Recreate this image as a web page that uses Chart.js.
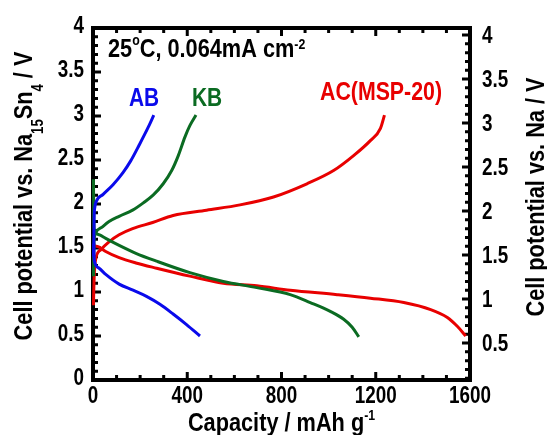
<!DOCTYPE html>
<html>
<head>
<meta charset="utf-8">
<script src="https://cdn.jsdelivr.net/npm/chart.js@4.4.1/dist/chart.umd.min.js"></script>
<style>
  html, body { margin: 0; padding: 0; background: #fff; }
  #wrap { width: 547px; height: 435px; position: relative; }
</style>
</head>
<body>
<div id="wrap"><canvas id="c" width="547" height="435"></canvas></div>
<script>
// ---- data ----
const abDischargeCap = [3, 4, 6, 26, 54, 111, 170, 227, 284, 340, 397, 454];
const abDischargeV   = [1.55, 1.42, 1.35, 1.27, 1.20, 1.09, 1.02, 0.95, 0.86, 0.75, 0.63, 0.50];
const abChargeCap = [3, 4, 5, 7, 14, 43, 85, 128, 160, 196, 234, 258];
const abChargeV   = [1.40, 1.70, 1.87, 1.95, 2.03, 2.11, 2.22, 2.36, 2.49, 2.67, 2.87, 3.01];

const kbDischargeCap = [2, 3, 5, 8, 28, 54, 111, 182, 270, 411, 553, 695, 837, 922, 1007, 1064, 1100, 1128];
const kbDischargeV   = [2.28, 1.90, 1.72, 1.68, 1.65, 1.61, 1.53, 1.44, 1.35, 1.22, 1.12, 1.05, 0.97, 0.88, 0.78, 0.69, 0.60, 0.49];
const kbChargeCap = [2, 3, 4, 6, 11, 40, 68, 111, 168, 217, 255, 298, 334, 362, 390, 411, 437];
const kbChargeV   = [1.18, 1.40, 1.55, 1.62, 1.67, 1.74, 1.80, 1.86, 1.93, 2.02, 2.10, 2.23, 2.38, 2.55, 2.76, 2.89, 3.01];

const acDischargeCap = [3, 5, 14, 26, 54, 111, 182, 270, 411, 553, 695, 837, 1036, 1177, 1319, 1433, 1504, 1546, 1582];
const acDischargeV   = [1.55, 1.53, 1.52, 1.51, 1.46, 1.39, 1.33, 1.27, 1.18, 1.10, 1.07, 1.02, 0.97, 0.93, 0.88, 0.80, 0.71, 0.61, 0.50];
const acChargeCap = [2, 3, 5, 11, 33, 68, 111, 168, 253, 340, 482, 624, 766, 908, 1021, 1106, 1177, 1220, 1237];
const acChargeV   = [0.85, 0.99, 1.18, 1.37, 1.48, 1.57, 1.65, 1.72, 1.79, 1.87, 1.93, 1.99, 2.08, 2.23, 2.38, 2.55, 2.72, 2.86, 3.01];

const xTickLabels = [0, 400, 800, 1200, 1600];
const yLeftTicks  = [0, 0.5, 1, 1.5, 2, 2.5, 3, 3.5, 4];
const yRightTicks = [0.5, 1, 1.5, 2, 2.5, 3, 3.5, 4];

const seriesNames = ['AB', 'KB', 'AC(MSP-20)'];
const seriesColors = ['#0a0aeb', '#0b6b22', '#e80000'];

// ---- helpers ----
const FAM = "'Liberation Sans', Arial, sans-serif";
const SQUEEZE = 0.82; // narrow (condensed) look of the original lettering
const pts = (xs, ys) => xs.map((v, i) => ({ x: v, y: ys[i] }));
const fmt = v => String(Number(v.toFixed(2)));

function mkSet(label, xs, ys, color) {
  return {
    label, data: pts(xs, ys), showLine: true, borderColor: color, backgroundColor: color,
    borderWidth: 3, pointRadius: 0, cubicInterpolationMode: 'monotone',
    yAxisID: 'y', parsing: false, clip: 6
  };
}

// rich text drawing: segments [text, sizePx, baselineOffsetPx]
function drawRich(ctx, segs, x, y, align, rot, color) {
  ctx.save();
  ctx.translate(x, y);
  if (rot) ctx.rotate(rot);
  ctx.scale(SQUEEZE, 1);
  ctx.fillStyle = color;
  ctx.textBaseline = 'alphabetic';
  ctx.textAlign = 'left';
  let total = 0;
  const widths = segs.map(s => { ctx.font = `bold ${s[1]}px ${FAM}`; const w = ctx.measureText(s[0]).width; total += w; return w; });
  let cx = align === 'center' ? -total / 2 : (align === 'right' ? -total : 0);
  segs.forEach((s, i) => {
    ctx.font = `bold ${s[1]}px ${FAM}`;
    ctx.fillText(s[0], cx, s[2]);
    cx += widths[i];
  });
  ctx.restore();
}

const TICK = 23;

const frameAndText = {
  id: 'frameAndText',
  beforeDatasetsDraw(chart) {
    const { ctx, chartArea: a, scales } = chart;
    const x = scales.x, y = scales.y, y2 = scales.y2;
    ctx.save();
    ctx.strokeStyle = '#000';
    ctx.lineWidth = 3;
    ctx.beginPath();
    for (let v = 100; v < x.max; v += 100) {
      const px = x.getPixelForValue(v);
      const len = v % 400 === 0 ? 8 : 5;
      ctx.moveTo(px, a.bottom); ctx.lineTo(px, a.bottom - len);
      ctx.moveTo(px, a.top); ctx.lineTo(px, a.top + len);
    }
    for (let i = 1; i < 40; i++) {
      const v = i / 10, py = y.getPixelForValue(v);
      const len = i % 5 === 0 ? 8 : 5;
      ctx.moveTo(a.left, py); ctx.lineTo(a.left + len, py);
    }
    for (let i = 1; i <= 40; i++) {
      const v = i / 10;
      if (v <= y2.min || v >= y2.max) continue;
      const py = y2.getPixelForValue(v);
      const len = i % 5 === 0 ? 8 : 5;
      ctx.moveTo(a.right, py); ctx.lineTo(a.right - len, py);
    }
    ctx.stroke();
    ctx.lineWidth = 4;
    ctx.strokeRect(a.left, a.top, a.right - a.left, a.bottom - a.top);
    ctx.restore();
  },
  afterDraw(chart) {
    const { ctx, chartArea: a, scales } = chart;
    const x = scales.x, y = scales.y, y2 = scales.y2;
    // tick labels, placed from the library's scales
    x.ticks.forEach(t => drawRich(ctx, [[fmt(t.value), TICK, 0]], x.getPixelForValue(t.value), a.bottom + 23, 'center', 0, '#000'));
    y.ticks.forEach(t => drawRich(ctx, [[fmt(t.value), TICK, 0]], a.left - 9, y.getPixelForValue(t.value) + 5, 'right', 0, '#000'));
    y2.ticks.forEach(t => drawRich(ctx, [[fmt(t.value), TICK, 0]], a.right + 12, y2.getPixelForValue(t.value) + 8, 'left', 0, '#000'));

    // axis titles
    drawRich(ctx, [['Capacity / mAh g', 26.5, 0], ['-1', 15, -11]], (a.left + a.right) / 2, 431, 'center', 0, '#000');
    drawRich(ctx, [['Cell potential vs. Na', 26.5, 0], ['15', 16, 11], ['Sn', 26.5, 0], ['4', 16, 11], [' / V', 26.5, 0]],
      32, 196, 'center', -Math.PI / 2, '#000');
    drawRich(ctx, [['Cell potential vs. Na / V', 26.5, 0]], 544, 197, 'center', -Math.PI / 2, '#000');
    // annotation
    drawRich(ctx, [['25', 26.5, 0], ['o', 15, -12], ['C, 0.064mA cm', 26.5, 0], ['-2', 15, -8]], 108, 57, 'left', 0, '#000');
    // series labels
    drawRich(ctx, [[seriesNames[0], 25.5, 0]], 129, 106, 'left', 0, seriesColors[0]);
    drawRich(ctx, [[seriesNames[1], 25.5, 0]], 192, 106, 'left', 0, seriesColors[1]);
    drawRich(ctx, [[seriesNames[2], 26, 0]], 320, 100, 'left', 0, seriesColors[2]);
  }
};

new Chart(document.getElementById('c'), {
  type: 'scatter',
  data: {
    datasets: [
      mkSet('AB discharge', abDischargeCap, abDischargeV, seriesColors[0]),
      mkSet('AB charge', abChargeCap, abChargeV, seriesColors[0]),
      mkSet('KB discharge', kbDischargeCap, kbDischargeV, seriesColors[1]),
      mkSet('KB charge', kbChargeCap, kbChargeV, seriesColors[1]),
      mkSet('AC discharge', acDischargeCap, acDischargeV, seriesColors[2]),
      mkSet('AC charge', acChargeCap, acChargeV, seriesColors[2])
    ]
  },
  options: {
    responsive: false,
    devicePixelRatio: 1,
    animation: false,
    layout: { padding: { top: 28, left: 0, right: 0, bottom: 0 } },
    plugins: { legend: { display: false }, tooltip: { enabled: false } },
    scales: {
      x: {
        type: 'linear', position: 'bottom', min: 0, max: 1600,
        grid: { display: false, drawTicks: false }, border: { display: false },
        afterBuildTicks: s => { s.ticks = xTickLabels.map(v => ({ value: v })); },
        ticks: { display: false },
        afterFit: s => { s.height = 55; }
      },
      y: {
        type: 'linear', position: 'left', min: 0, max: 4,
        grid: { display: false, drawTicks: false }, border: { display: false },
        afterBuildTicks: s => { s.ticks = yLeftTicks.map(v => ({ value: v })); },
        ticks: { display: false },
        afterFit: s => { s.width = 93; }
      },
      y2: {
        type: 'linear', position: 'right', min: 0.08, max: 4.08,
        grid: { display: false, drawTicks: false }, border: { display: false },
        afterBuildTicks: s => { s.ticks = yRightTicks.map(v => ({ value: v })); },
        ticks: { display: false },
        afterFit: s => { s.width = 77; }
      }
    }
  },
  plugins: [frameAndText]
});
</script>
</body>
</html>
